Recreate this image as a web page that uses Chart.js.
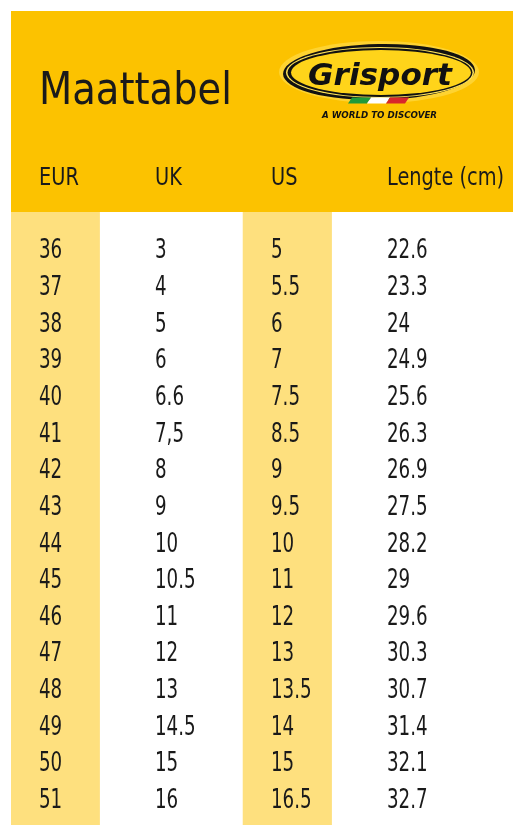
<!DOCTYPE html>
<html>
<head>
<meta charset="utf-8">
<title>Maattabel</title>
<script src="https://cdn.jsdelivr.net/npm/chart.js@4/dist/chart.umd.min.js"></script>
<style>
    html, body { margin: 0; padding: 0; background: #ffffff; }
    #wrap { position: relative; width: 513px; height: 825px; }
</style>
</head>
<body>
<div id="wrap"><canvas id="size-chart" width="513" height="825"></canvas></div>
<script>
// Size table data
const columnHeaders = ['EUR', 'UK', 'US', 'Lengte (cm)'];
const eurSizes = ['36', '37', '38', '39', '40', '41', '42', '43', '44', '45', '46', '47', '48', '49', '50', '51'];
const ukSizes = ['3', '4', '5', '6', '6.6', '7,5', '8', '9', '10', '10.5', '11', '12', '13', '14.5', '15', '16'];
const usSizes = ['5', '5.5', '6', '7', '7.5', '8.5', '9', '9.5', '10', '11', '12', '13', '13.5', '14', '15', '16.5'];
const lengthCm = ['22.6', '23.3', '24', '24.9', '25.6', '26.3', '26.9', '27.5', '28.2', '29', '29.6', '30.3', '30.7', '31.4', '32.1', '32.7'];
const highlightedColumns = [0, 2];

// Layout (column index units on x, row index units on y)
const HEADER_YELLOW = '#fcc200';
const BAND_YELLOW = '#fee07e';
const TEXT_COLOR = '#1a1a1a';
const FONT_NARROW = "'DejaVu Sans Condensed', 'DejaVu Sans', sans-serif";
const CONDENSE = 0.78;
const HEADING_CONDENSE = 0.86;
const BAND_BEFORE = 0.241;
const BAND_AFTER = 0.522;

const columns = [eurSizes, ukSizes, usSizes, lengthCm];

/**
 * Draw text squeezed or stretched to a given width
 */
function drawFitted(ctx, text, x, y, width) {
    const natural = ctx.measureText(text).width;
    drawScaled(ctx, text, x, y, width / natural);
}

/**
 * Draw text with a horizontal scale factor
 */
function drawScaled(ctx, text, x, y, factor) {
    ctx.save();
    ctx.translate(x, y);
    ctx.scale(factor, 1);
    ctx.fillText(text, 0, 0);
    ctx.restore();
}

/**
 * Header: yellow block, title, logo and column headings
 */
const headerPlugin = {
    id: 'header',
    beforeDraw(chart) {
        const ctx = chart.ctx;
        const area = chart.chartArea;
        const xScale = chart.scales.x;

        ctx.save();
        ctx.fillStyle = HEADER_YELLOW;
        ctx.fillRect(area.left, 11, area.right - area.left, area.top - 11);

        ctx.fillStyle = TEXT_COLOR;
        ctx.textBaseline = 'alphabetic';
        ctx.font = '45px ' + FONT_NARROW;
        drawFitted(ctx, 'Maattabel', 39, 104, 193);

        // Column headings
        ctx.font = '25px ' + FONT_NARROW;
        columnHeaders.forEach((label, i) => {
            drawScaled(ctx, label, xScale.getPixelForValue(i), 185, HEADING_CONDENSE);
        });

        drawLogo(ctx);
        ctx.restore();
    }
};

/**
 * Grisport logo
 */
function drawLogo(ctx) {
    const cx = 379, cy = 72;

    ctx.save();
    // soft glow
    ctx.fillStyle = 'rgba(255,226,90,0.55)';
    ctx.beginPath();
    ctx.ellipse(cx, cy, 100, 31, 0, 0, Math.PI * 2);
    ctx.fill();

    // black ring
    ctx.fillStyle = '#111111';
    ctx.beginPath();
    ctx.ellipse(cx, cy, 96, 28, -0.02, 0, Math.PI * 2);
    ctx.fill();
    ctx.fillStyle = '#ffe35a';
    ctx.beginPath();
    ctx.ellipse(cx + 1, cy + 0.5, 94, 25.5, 0, 0, Math.PI * 2);
    ctx.fill();
    ctx.fillStyle = '#111111';
    ctx.beginPath();
    ctx.ellipse(cx + 1, cy + 0.5, 92.5, 24.5, 0, 0, Math.PI * 2);
    ctx.fill();
    ctx.fillStyle = '#ffd41a';
    ctx.beginPath();
    ctx.ellipse(cx + 2, cy + 0.5, 90, 22.5, 0, 0, Math.PI * 2);
    ctx.fill();

    // flag stripes
    const stripes = ['#1f9a3a', '#ffffff', '#d8262b'];
    stripes.forEach((color, i) => {
        const x0 = 348 + i * 19;
        ctx.fillStyle = color;
        ctx.beginPath();
        ctx.moveTo(x0 + 4, 97.5);
        ctx.lineTo(x0 + 23, 97.5);
        ctx.lineTo(x0 + 19, 103.5);
        ctx.lineTo(x0, 103.5);
        ctx.closePath();
        ctx.fill();
    });

    // brand name
    ctx.fillStyle = '#111111';
    ctx.font = 'italic bold 31px "DejaVu Sans", sans-serif';
    drawFitted(ctx, 'Grisport', 308, 85, 144);

    ctx.font = 'italic bold 9px "DejaVu Sans", sans-serif';
    drawFitted(ctx, 'A WORLD TO DISCOVER', 322, 118, 115);
    ctx.restore();
}

/**
 * Cell texts: drawn at the positions of the hidden scatter points
 */
const cellTextPlugin = {
    id: 'cellText',
    afterDatasetsDraw(chart) {
        const ctx = chart.ctx;
        ctx.save();
        ctx.fillStyle = TEXT_COLOR;
        ctx.font = '26px ' + FONT_NARROW;
        ctx.textAlign = 'left';
        ctx.textBaseline = 'alphabetic';
        const capHalf = ctx.measureText('0').actualBoundingBoxAscent / 2;

        chart.data.datasets.forEach((dataset, d) => {
            if (!dataset.cellTexts) return;
            const meta = chart.getDatasetMeta(d);
            meta.data.forEach((point, i) => {
                drawScaled(ctx, dataset.cellTexts[i], point.x, point.y + capHalf, CONDENSE);
            });
        });
        ctx.restore();
    }
};

// Band datasets (light yellow column backgrounds)
const bandDatasets = highlightedColumns.map(col => ({
    type: 'bar',
    indexAxis: 'y',
    grouped: false,
    xAxisID: 'x',
    yAxisID: 'yBand',
    data: [{ x: [col - BAND_BEFORE, col + BAND_AFTER], y: 'band' }],
    backgroundColor: BAND_YELLOW,
    borderWidth: 0,
    barPercentage: 1,
    categoryPercentage: 1
}));

// Text datasets (one per column, invisible points)
const textDatasets = columns.map((values, col) => ({
    type: 'scatter',
    xAxisID: 'x',
    yAxisID: 'y',
    data: values.map((v, row) => ({ x: col, y: row })),
    cellTexts: values,
    pointRadius: 0,
    pointHoverRadius: 0
}));

new Chart(document.getElementById('size-chart'), {
    data: {
        datasets: [...bandDatasets, ...textDatasets]
    },
    options: {
        responsive: false,
        devicePixelRatio: 1,
        animation: false,
        events: [],
        layout: {
            padding: { top: 212, left: 11, right: 0, bottom: 0 }
        },
        plugins: {
            legend: { display: false },
            tooltip: { enabled: false }
        },
        scales: {
            x: {
                type: 'linear',
                display: false,
                min: -0.2414,
                max: 4.086
            },
            y: {
                type: 'linear',
                display: false,
                reverse: true,
                min: -0.996,
                max: 15.74
            },
            yBand: {
                type: 'category',
                labels: ['band'],
                display: false,
                offset: true
            }
        }
    },
    plugins: [headerPlugin, cellTextPlugin]
});
</script>
</body>
</html>
